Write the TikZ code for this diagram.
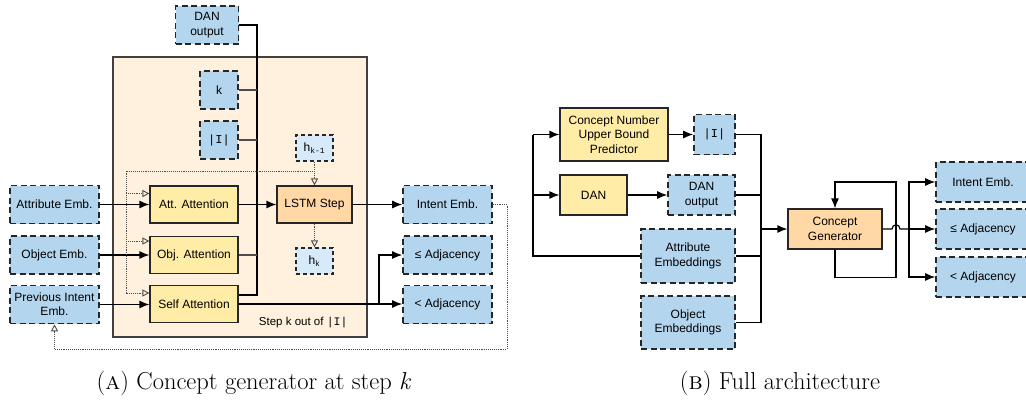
\documentclass[tikz,border=0pt]{standalone}
\usepackage{fontspec}
\setsansfont{Liberation Sans}
\setmonofont{Liberation Mono}
\usetikzlibrary{arrows.meta,positioning}
\definecolor{embblue}{RGB}{180,213,238}
\definecolor{hblue}{RGB}{214,234,250}
\definecolor{netyellow}{RGB}{255,236,166}
\definecolor{steporange}{RGB}{255,216,165}
\definecolor{panelfill}{RGB}{255,241,222}
\begin{document}
\begin{tikzpicture}[x=1pt,y=-1pt]
    \tikzset{box/.style={draw=black!85,align=center,inner sep=0pt,
        font=\sffamily\fontsize{12}{14.3}\selectfont},
      emb/.style={box,fill=embblue,line width=1.6pt,dash pattern=on 6pt off 3.5pt,
        minimum width=89pt,minimum height=38pt},
      net/.style={box,fill=netyellow,line width=1.2pt,minimum width=88pt,minimum height=37pt},
      lstm/.style={net,fill=steporange},
      hbox/.style={emb,fill=hblue,line width=1.2pt,dash pattern=on 4pt off 3pt,
        minimum width=37pt,minimum height=26pt},
      arr/.style={line width=1.2pt,-{Latex[length=10pt,width=8pt]}},
      link/.style={line width=1.2pt},
      dot/.style={line width=0.9pt,densely dotted,black!70},
      dotarr/.style={dot,-{Triangle[open,length=7pt,width=7pt]}},
      subcap/.style={font=\fontsize{24.5}{29}\selectfont}}
    \useasboundingbox (0,0) rectangle (1026,405);

    % (A) concept generator at step k
    \fill[panelfill,draw=black!75,line width=1.3pt] (113,57) rectangle (367,337);
    \node[anchor=east,font=\sffamily\fontsize{11.5}{13}\selectfont] (steptxt) at (351,323) {Step k out of \texttt{|I|}};

    \node[emb,minimum width=63pt] (danoutA) at (207,25) {DAN\\output};
    \node[emb,minimum width=38pt] (kA) at (219,90) {k};
    \node[emb,minimum width=38pt] (cardA) at (219,140) {\texttt{|I|}};
    \node[hbox] (hprev) at (314.5,148) {h\textsubscript{\ttfamily k-1}};

    \node[net] (attatt) at (194,204.5) {Att. Attention};
    \node[net] (objatt) [below of=attatt,node distance=50.5pt] {Obj. Attention};
    \node[net] (selfatt) [below of=objatt,node distance=49pt] {Self Attention};
    \node[lstm,minimum width=75pt] (lstm) at (314.5,204.5) {LSTM Step};
    \node[hbox] (hcur) at (314.5,261) {h\textsubscript{\ttfamily k}};

    \node[emb] (attembA) at (54.5,204.5) {Attribute Emb.};
    \node[emb] (objembA) [below of=attembA,node distance=50.5pt] {Object Emb.};
    \node[emb] (prevemb) [below of=objembA,node distance=49.5pt] {Previous Intent\\Emb.};

    \node[emb] (intembA) at (447.5,204.5) {Intent Emb.};
    \node[emb] (leadjA) [below of=intembA,node distance=50.5pt] {≤ Adjacency};
    \node[emb] (ltadjA) [below of=leadjA,node distance=49.5pt] {< Adjacency};

    \coordinate (busA) at (257,295);
    \draw[link] (danoutA.east) -| (busA) -- (busA -| selfatt.east);
    \draw[link,black!70] (kA.east) -- (kA.east -| busA);
    \draw[link,black!70] (cardA.east) -- (cardA.east -| busA);
    \draw[link,black!70] (objatt.east) -- (objatt.east -| busA);
    \draw[arr] (attatt) -- (lstm);
    \draw[arr] (lstm) -- (intembA);

    \draw[arr] (attembA) -- (attatt);
    \draw[arr] (objembA) -- (objatt);
    \draw[arr] (prevemb.east) -- (prevemb.east -| selfatt.west);

    \coordinate (splitA) at (379,304);
    \draw[arr] (selfatt.east) -- (selfatt.east -| ltadjA.west);
    \draw[arr] (splitA) |- (leadjA.west);

    % hidden state, dotted
    \coordinate (dl) at (126,171);
    \coordinate (d1) at ([yshift=11pt]attatt.west);
    \coordinate (d2) at ([yshift=14pt]objatt.west);
    \coordinate (d3) at ([yshift=11pt]selfatt.west);
    \draw[dotarr] (hprev) -- (lstm);
    \draw[dotarr] (lstm) -- (hcur);
    \draw[dotarr] (hprev |- dl) -- (dl) |- (d3);
    \draw[dotarr] (dl |- d1) -- (d1);
    \draw[dotarr] (dl |- d2) -- (d2);
    \coordinate (fb) at (507,349);
    \draw[dotarr] (intembA.east) -| (fb) -| (prevemb.south);

    \node[subcap] (capA) at (254,383) {(\textsc{a}) Concept generator at step \textit{k}};

    % (B) full architecture
    \node[net,minimum width=108pt,minimum height=53pt] (bound) at (614,134.5) {Concept Number\\Upper Bound\\Predictor};
    \node[emb,minimum width=41pt,minimum height=40pt] (cardB) at (714.5,134.5) {\texttt{|I|}};
    \node[net,minimum width=67pt,minimum height=40pt] (dan) at (593.5,195) {DAN};
    \node[emb,minimum width=67pt,minimum height=40pt] (danoutB) at (701.5,195) {DAN\\output};
    \node[emb,minimum width=94pt,minimum height=54pt] (attembB) at (688,256) {Attribute\\Embeddings};
    \node[emb,minimum width=94pt,minimum height=53pt] (objembB) at (688,322.5) {Object\\Embeddings};
    \node[lstm,minimum width=94pt,minimum height=40pt] (gen) at (835,229) {Concept\\Generator};

    \node[emb,minimum width=94pt,minimum height=40pt] (intembB) at (983,182) {Intent Emb.};
    \node[emb,minimum width=94pt,minimum height=40pt] (leadjB) at (983,229) {≤ Adjacency};
    \node[emb,minimum width=94pt,minimum height=40pt] (ltadjB) at (983,277) {< Adjacency};

    \coordinate (inB) at (533,134.5);
    \draw[link] (attembB.west) -| (inB);
    \draw[arr] (inB) -- (bound);
    \draw[arr] (inB |- dan.west) -- (dan);
    \draw[arr] (bound) -- (cardB);
    \draw[arr] (dan) -- (danoutB);

    \coordinate (busB) at (761,322.5);
    \draw[link] (cardB.east) -| (busB) -- (objembB.east);
    \draw[link] (danoutB.east) -- (danoutB.east -| busB);
    \draw[link] (attembB.east) -- (attembB.east -| busB);
    \draw[arr] (gen.west -| busB) -- (gen);

    \coordinate (loop) at (896,182);
    \draw[arr] (gen.south) -- ++(0,28) -| (loop) -| (gen.north);

    \coordinate (outB) at (909,229);
    \draw[link] (gen.east) -- (892,229) .. controls (892,223.5) and (900,223.5) .. (900,229) -- (outB);
    \draw[arr] (outB) |- (intembB.west);
    \draw[arr] (outB) -- (leadjB);
    \draw[arr] (outB) |- (ltadjB.west);

    \node[subcap] (capB) at (780,383) {(\textsc{b}) Full architecture};
  \end{tikzpicture}
\end{document}
